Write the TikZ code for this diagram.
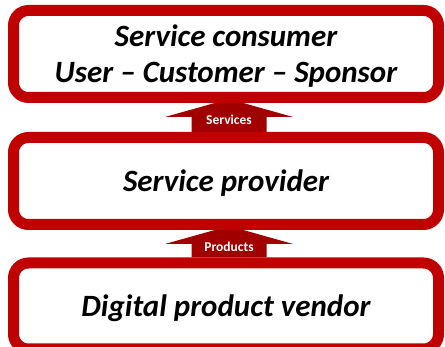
\documentclass[tikz,border=0pt]{standalone}
\usepackage{fontspec}
\setmainfont{Carlito}
\usepackage{tikz}
\usetikzlibrary{positioning,calc,backgrounds}
\definecolor{boxred}{HTML}{C00000}
\definecolor{arrowred}{HTML}{A00000}

\begin{document}
\begin{tikzpicture}[x=1pt, y=-1pt, node distance=29pt]

        \useasboundingbox (0,0) rectangle (445,347);

        % Nodes
        \node (consumer) at (226,54) [draw=boxred, line width=11pt, fill=white, rounded corners=15pt, text centered, align=center, text depth=0pt, minimum height=87pt, minimum width=425pt, font=\fontsize{31}{36}\selectfont\bfseries\itshape] {Service consumer\\User -- Customer -- Sponsor};
        \node (provider) [below=of consumer, draw=boxred, line width=11pt, fill=white, rounded corners=15pt, text centered, text depth=0pt, minimum height=87pt, minimum width=425pt, font=\fontsize{31}{36}\selectfont\bfseries\itshape] {Service provider};
        \node (vendor) [below=27.5pt of provider, draw=boxred, line width=11pt, fill=white, rounded corners=15pt, text centered, text depth=0pt, minimum height=86pt, minimum width=425pt, font=\fontsize{31}{36}\selectfont\bfseries\itshape] {Digital product vendor};

        % Arrows
        \begin{scope}[on background layer]
        \foreach \a/\b/\t in {provider/consumer/Services, vendor/provider/Products} {
            \coordinate (\a-tip) at ($(\b.south)+(3,-4)$);
            \fill[arrowred] (\a-tip) -- ++(64,18) -- ++(-26.5,0) -- ($(\a.north)+(40.5,0)$) -- ++(-75,0) -- ($(\a-tip)+(-37.5,18)$) -- ++(-26.5,0) -- cycle;
            \node (\a-lbl) at ($(\a-tip)+(0,20.5)$) [text=white, font=\fontsize{13.5}{15}\selectfont\bfseries] {\t};
        }
        \end{scope}

    \end{tikzpicture}
\end{document}
